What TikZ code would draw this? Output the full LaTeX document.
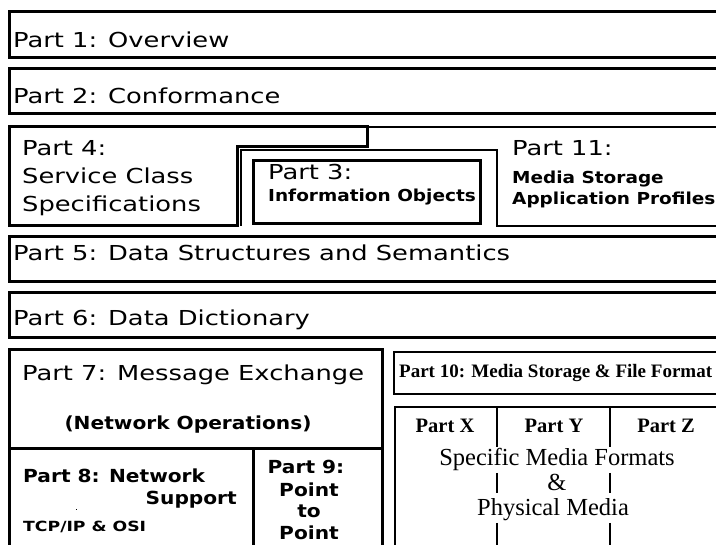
\documentclass[tikz,border=0pt]{standalone}
\usepackage{fontspec}
\usepackage{graphicx}
\newfontfamily\chic[FakeStretch=1.25]{DejaVu Sans}
\newfontfamily\chicb[FakeStretch=1.12]{DejaVu Sans}
\newfontfamily\nyserif{Liberation Serif}
\tikzset{
  heavy/.style={line width=3pt, draw=black},
  medium/.style={line width=2pt, draw=black},
  light/.style={line width=1.5pt, draw=black},
  big/.style={font=\chic\fontsize{20.6}{24}\selectfont, inner sep=0pt},
  smallbold/.style={font=\chicb\bfseries\fontsize{16.5}{20}\selectfont, inner sep=0pt},
  midbold/.style={font=\chicb\bfseries\fontsize{18}{22}\selectfont, inner sep=0pt},
  tinybold/.style={font=\chicb\bfseries\fontsize{14}{16}\selectfont, inner sep=0pt},
  serifbold/.style={font=\nyserif\bfseries\fontsize{19}{22}\selectfont, inner sep=0pt},
  serifhead/.style={font=\nyserif\bfseries\fontsize{20.5}{24}\selectfont, inner sep=0pt},
  serifbody/.style={font=\nyserif\fontsize{24.5}{28}\selectfont, inner sep=0pt},
}
\begin{document}
\begin{tikzpicture}[x=1pt,y=-1pt]
\clip (0,0) rectangle (716,545);
\fill[white] (0,0) rectangle (716,545);
% Part 1, 2
\draw[heavy] (9,12) rectangle (740,58);
\draw[heavy] (9,69) rectangle (740,114);
% Part 11 outline
\draw[medium] (367,127) -- (740,127);
\draw[medium] (740,226) -- (497,226) -- (497,150) -- (241,150) -- (241,226);
% Part 4
\draw[heavy, line join=miter] (9,127) -- (367,127) -- (367,147) -- (237,147) -- (237,226) -- (9,226) -- cycle;
% Part 3
\draw[heavy] (253,161) rectangle (480,224);
% Part 5, 6
\draw[heavy] (9,237) rectangle (740,282);
\draw[heavy] (9,293) rectangle (740,338);
% Part 7, 8, 9
\draw[heavy] (9,350) rectangle (382,570);
\draw[heavy] (9,449) -- (382,449);
\draw[heavy] (253,449) -- (253,570);
% Part 10
\draw[medium] (394,352) rectangle (740,394);
% Parts X Y Z
\draw[medium] (395,407) rectangle (740,570);
\foreach \xx in {497,610}{
  \draw[light] (\xx,407) -- (\xx,447);
  \draw[light] (\xx,473) -- (\xx,493);
  \draw[light] (\xx,523) -- (\xx,570);
}
% texts
\node[big, anchor=base west] (p1) at (13,47.5) {Part 1: Overview};
\node[big, anchor=base west] (p2) at (13,103.5) {Part 2: Conformance};
\node[big, anchor=base west] (p4a) at (22,155.5) {Part 4:};
\node[big, anchor=base west] (p4b) at (22,183.5) {Service Class};
\node[big, anchor=base west] (p4c) at (22,211.5) {Specifications};
\node[big, anchor=base west] (p3a) at (268,179.5) {Part 3:};
\node[smallbold, anchor=base west] (p3b) at (268,202) {Information Objects};
\node[big, anchor=base west] (p11a) at (512,155.5) {Part 11:};
\node[smallbold, anchor=base west] (p11b) at (512,184) {Media Storage};
\node[smallbold, anchor=base west] (p11c) at (512,205) {Application Profiles};
\node[big, anchor=base west] (p5) at (13,260.5) {Part 5: Data Structures and Semantics};
\node[big, anchor=base west] (p6) at (13,325.5) {Part 6: Data Dictionary};
\node[big, anchor=base west] (p7a) at (22,380.5) {Part 7: Message Exchange};
\node[midbold, anchor=base] (p7b) at (188,429.5) {(Network Operations)};
\node[midbold, anchor=base west] (p8a) at (23,482.5) {Part 8: Network};
\node[midbold, anchor=base east] (p8b) at (237,505) {Support};
\node[tinybold, anchor=base west] (p8c) at (23,532) {\scalebox{1.1}[1]{TCP/IP \& OSI}};
\fill (75.5,509) rectangle (77,510.5);
\node[midbold, anchor=base] (p9a) at (306,473.5) {Part 9:};
\node[midbold, anchor=base] (p9b) at (309,496.5) {Point};
\node[midbold, anchor=base] (p9c) at (309,518) {to};
\node[midbold, anchor=base] (p9d) at (309,539.5) {Point};
\node[serifbold, anchor=base west] (p10) at (399,378) {Part 10: Media Storage \& File Format};
\node[serifhead, anchor=base] (px) at (445,433) {Part X};
\node[serifhead, anchor=base] (py) at (554,433) {Part Y};
\node[serifhead, anchor=base] (pz) at (666,433) {Part Z};
\node[serifbody, anchor=base] (smf) at (557,466) {Specific Media Formats};
\node[serifbody, anchor=base] (amp) at (557,491) {\&};
\node[serifbody, anchor=base] (phm) at (553,516) {Physical Media};
\end{tikzpicture}
\end{document}
